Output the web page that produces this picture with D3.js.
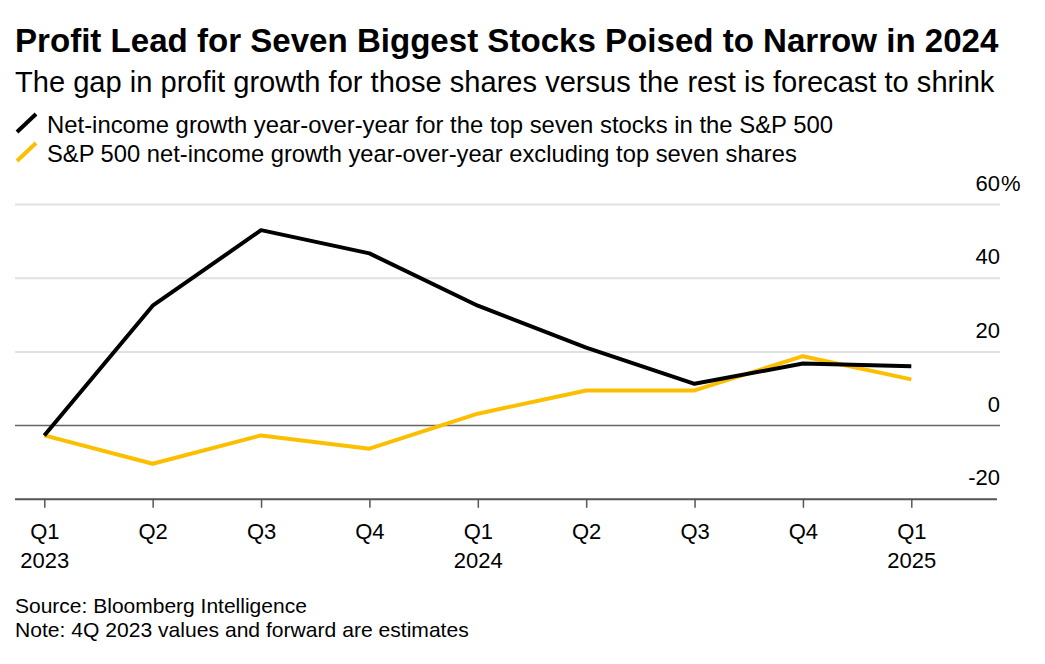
<!DOCTYPE html>
<html>
<head>
<meta charset="utf-8">
<script src="https://cdn.jsdelivr.net/npm/d3@7"></script>
<style>
  html, body { margin: 0; padding: 0; background: #fff; }
  svg { display: block; font-family: "Liberation Sans", Arial, Helvetica, sans-serif; }
</style>
</head>
<body>
<svg id="chart" width="1045" height="664"></svg>
<script>
// ---- Data ----
const periods = ["Q1 2023","Q2 2023","Q3 2023","Q4 2023","Q1 2024","Q2 2024","Q3 2024","Q4 2024","Q1 2025"];
const quarterLabels = ["Q1","Q2","Q3","Q4","Q1","Q2","Q3","Q4","Q1"];
const yearLabels = ["2023","","","","2024","","","","2025"];
const topSeven = [-2.8, 32.4, 52.9, 46.6, 32.4, 21.0, 11.2, 16.7, 16.0];
const restOf500 = [-2.8, -10.5, -2.8, -6.4, 3.1, 9.4, 9.4, 18.7, 12.4];
const yTicks = [-20, 0, 20, 40, 60];
const seriesNames = [
  "Net-income growth year-over-year for the top seven stocks in the S&P 500",
  "S&P 500 net-income growth year-over-year excluding top seven shares"
];
const seriesColors = ["#000000", "#fcbf00"];

// ---- Setup ----
const svg = d3.select("#chart");
const left = 15, right = 1000;
const x = d3.scalePoint().domain(periods).range([44.3, 911.3]);
const y = d3.scaleLinear().domain([-20, 60]).range([498.8, 204]);

function fit(sel, target) {
  const w = sel.node().getComputedTextLength();
  const fs = parseFloat(sel.attr("font-size"));
  sel.attr("font-size", fs * target / w);
}

// Title
const title = svg.append("text").attr("x", 15).attr("y", 52)
  .attr("font-size", 32).attr("font-weight", "bold").attr("fill", "#000")
  .text("Profit Lead for Seven Biggest Stocks Poised to Narrow in 2024");
fit(title, 984);

const sub = svg.append("text").attr("x", 15).attr("y", 92)
  .attr("font-size", 25).attr("fill", "#000")
  .text("The gap in profit growth for those shares versus the rest is forecast to shrink");
fit(sub, 980);

// Legend
const legendY = [133, 162];
const legendW = [786, 750];
seriesNames.forEach((name, i) => {
  svg.append("line")
    .attr("x1", 17).attr("y1", legendY[i] - 1)
    .attr("x2", 36).attr("y2", legendY[i] - 19)
    .attr("stroke", seriesColors[i]).attr("stroke-width", 4);
  const t = svg.append("text").attr("x", 47).attr("y", legendY[i])
    .attr("font-size", 21).attr("fill", "#000").text(name);
  fit(t, legendW[i]);
});

// Y axis (gridlines + labels on right)
const yAxis = d3.axisLeft(y).tickValues(yTicks).tickSize(right - left).tickFormat(d => d);
const gy = svg.append("g").attr("transform", `translate(${right},0)`).call(yAxis);
gy.select(".domain").remove();
gy.selectAll(".tick line")
  .attr("stroke", d => d === 0 ? "#666" : (d === -20 ? "#555" : "#e1e1e1"))
  .attr("stroke-width", d => d === 0 ? 1.5 : 2)
  .attr("x2", d => d === -20 ? -3 : 0)
  .attr("x1", -(right - left));
gy.selectAll(".tick text")
  .attr("x", 0).attr("y", -14).attr("dy", 0)
  .attr("text-anchor", "end")
  .attr("font-size", 22).attr("font-family", null).attr("fill", "#000");
gy.selectAll(".tick").filter(d => d === d3.max(yTicks)).append("text")
  .attr("x", 1).attr("y", -14).attr("text-anchor", "start")
  .attr("font-size", 22).attr("fill", "#000").text("%");

// X axis
const xAxis = d3.axisBottom(x).tickSize(9).tickPadding(12)
  .tickFormat((d, i) => quarterLabels[periods.indexOf(d)]);
const gx = svg.append("g").attr("transform", `translate(0,${y(-20)})`).call(xAxis);
gx.select(".domain").remove();
gx.selectAll(".tick line").attr("stroke", "#555").attr("stroke-width", 1.5);
gx.selectAll(".tick text").attr("font-size", 22).attr("font-family", null).attr("fill", "#000")
  .attr("y", 40).attr("dy", 0);
gx.selectAll(".tick").append("text")
  .attr("y", 69).attr("text-anchor", "middle")
  .attr("font-size", 22).attr("fill", "#000")
  .text(d => yearLabels[periods.indexOf(d)]);

// Lines
const line = d3.line().x((d, i) => x(periods[i])).y(d => y(d));
[restOf500, topSeven].forEach((vals, k) => {
  const colour = k === 0 ? seriesColors[1] : seriesColors[0];
  svg.append("path").datum(vals)
    .attr("d", line).attr("fill", "none")
    .attr("stroke", colour).attr("stroke-width", 4)
    .attr("stroke-linejoin", "round").attr("stroke-linecap", "butt");
});

// Footer
const src = svg.append("text").attr("x", 15).attr("y", 613)
  .attr("font-size", 17.5).attr("fill", "#000").text("Source: Bloomberg Intelligence");
fit(src, 292);
const note = svg.append("text").attr("x", 15).attr("y", 637)
  .attr("font-size", 17.5).attr("fill", "#000").text("Note: 4Q 2023 values and forward are estimates");
fit(note, 454);
</script>
</body>
</html>
